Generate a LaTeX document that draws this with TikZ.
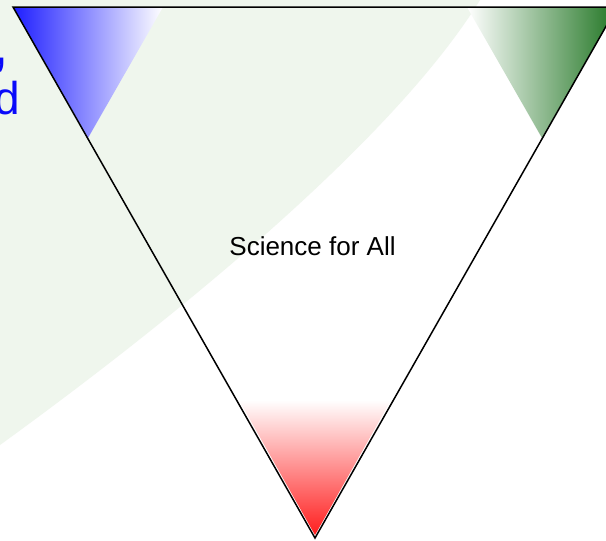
\documentclass[tikz,border=0pt]{standalone}
\usepackage{fontspec}
\setmainfont{Liberation Sans}
\definecolor{bggreen}{RGB}{239,246,237}
\definecolor{cblue}{RGB}{30,30,255}
\definecolor{cgreen}{RGB}{34,118,36}
\definecolor{cred}{RGB}{255,30,30}
\definecolor{ctext}{RGB}{10,10,250}
\tikzset{
  outline/.style={draw=black,line width=1.5pt,line join=miter},
  label/.style={font=\fontsize{26}{30}\selectfont,text=black,inner sep=0pt},
  cuttext/.style={text=ctext,inner sep=0pt,anchor=base east}
}
\begin{document}
\begin{tikzpicture}[x=1pt,y=-1pt]
\useasboundingbox (0,0) rectangle (606,541);
\clip (0,0) rectangle (606,541);
\fill[white] (0,0) rectangle (606,541);
% background tint
\fill[bggreen] (0,0) -- (480,0) .. controls (400,130) and (200,300) .. (0,445) -- cycle;
% cut-off text at left
\node[cuttext,font=\fontsize{60}{60}\selectfont] (comma) at (9,64) {,};
\node[cuttext,font=\fontsize{46}{46}\selectfont] (dd) at (20,114.5) {d};
% corner shadings
\shade[left color=cblue,right color=white] (13,7) -- (163,7) -- (88,138) -- cycle;
\shade[left color=white,right color=cgreen] (467,7) -- (617,7) -- (542,138) -- cycle;
\shade[top color=white,bottom color=cred] (239,400) -- (391,400) -- (315,535) -- cycle;
% main triangle
\coordinate (tl) at (13,7);
\coordinate (tr) at (617,7);
\coordinate (bt) at (315,538);
\draw[outline] (tl) -- (tr) -- (bt) -- cycle;
\node[label,anchor=base] (sci) at (312.5,255) {Science for All};
\end{tikzpicture}
\end{document}
